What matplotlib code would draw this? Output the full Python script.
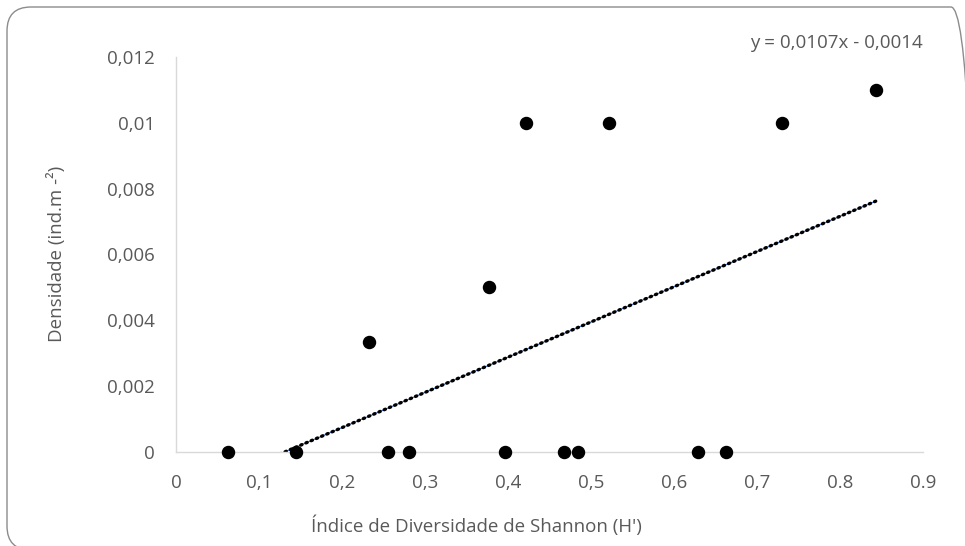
import numpy as np
import matplotlib.pyplot as plt
from matplotlib.patches import FancyBboxPatch
from matplotlib.transforms import IdentityTransform

# dados
shannon = [0.063, 0.145, 0.255, 0.281, 0.396, 0.467, 0.484, 0.629, 0.663,
           0.2325, 0.377, 0.422, 0.522, 0.730, 0.843]
densidade = [0, 0, 0, 0, 0, 0, 0, 0, 0,
             0.00333, 0.005, 0.01, 0.01, 0.01, 0.011]
slope = 0.0107
intercept = -0.0014
xticks = [0, 0.1, 0.2, 0.3, 0.4, 0.5, 0.6, 0.7, 0.8, 0.9]
xlabels = ['0', '0,1', '0,2', '0,3', '0,4', '0,5', '0,6', '0,7', '0.8', '0.9']
yticks = [0, 0.002, 0.004, 0.006, 0.008, 0.01, 0.012]
ylabels = ['0', '0,002', '0,004', '0,006', '0,008', '0,01', '0,012']

plt.rcParams['font.family'] = ['Open Sans', 'DejaVu Sans']
cinza = '#595959'
fs = 13.5

fig = plt.figure(figsize=(9.65, 5.46), dpi=100)
ax = fig.add_axes([0.1824, 0.1722, 0.7741, 0.7234])

# borda arredondada (em pixels, origem embaixo a esquerda)
borda = FancyBboxPatch((7, -4), 968, 543,
                       boxstyle='round,pad=0,rounding_size=24',
                       transform=IdentityTransform(), fill=False,
                       edgecolor='#8c8c8c', linewidth=1.0, clip_on=False)
fig.patches.append(borda)

ax.scatter(shannon, densidade, s=75, color='black', zorder=3, clip_on=False)

# linha de tendencia (cortada em y=0 pelo eixo)
xl = np.linspace(0.1, max(shannon), 50)
yl = slope * xl + intercept
ax.plot(xl, yl, color='#4472C4', lw=0.8, zorder=2)
ax.plot(xl, yl, color='black', lw=2.4, linestyle=(0, (0.4, 1.3)),
        dash_capstyle='round', zorder=2)

ax.set_xlim(0, 0.9)
ax.set_ylim(0, 0.012)
ax.set_xticks(xticks)
ax.set_xticklabels(xlabels)
ax.set_yticks(yticks)
ax.set_yticklabels(ylabels)
ax.tick_params(length=0, colors=cinza, labelsize=fs)
ax.tick_params(axis='x', pad=16)
ax.tick_params(axis='y', pad=15)
for s in ['top', 'right']:
    ax.spines[s].set_visible(False)
for s in ['left', 'bottom']:
    ax.spines[s].set_color('#D9D9D9')
    ax.spines[s].set_linewidth(1.0)

fig.text(0.059, 0.535, 'Densidade (ind.m -²)', color=cinza, fontsize=fs,
         rotation=90, ha='center', va='center')
fig.text(0.494, 0.037, "Índice de Diversidade de Shannon (H')", color=cinza,
         fontsize=fs, ha='center', va='center')
fig.text(0.9565, 0.921, 'y = 0,0107x - 0,0014', color=cinza, fontsize=fs,
         ha='right', va='center')

fig.savefig('out.png', dpi=100)
